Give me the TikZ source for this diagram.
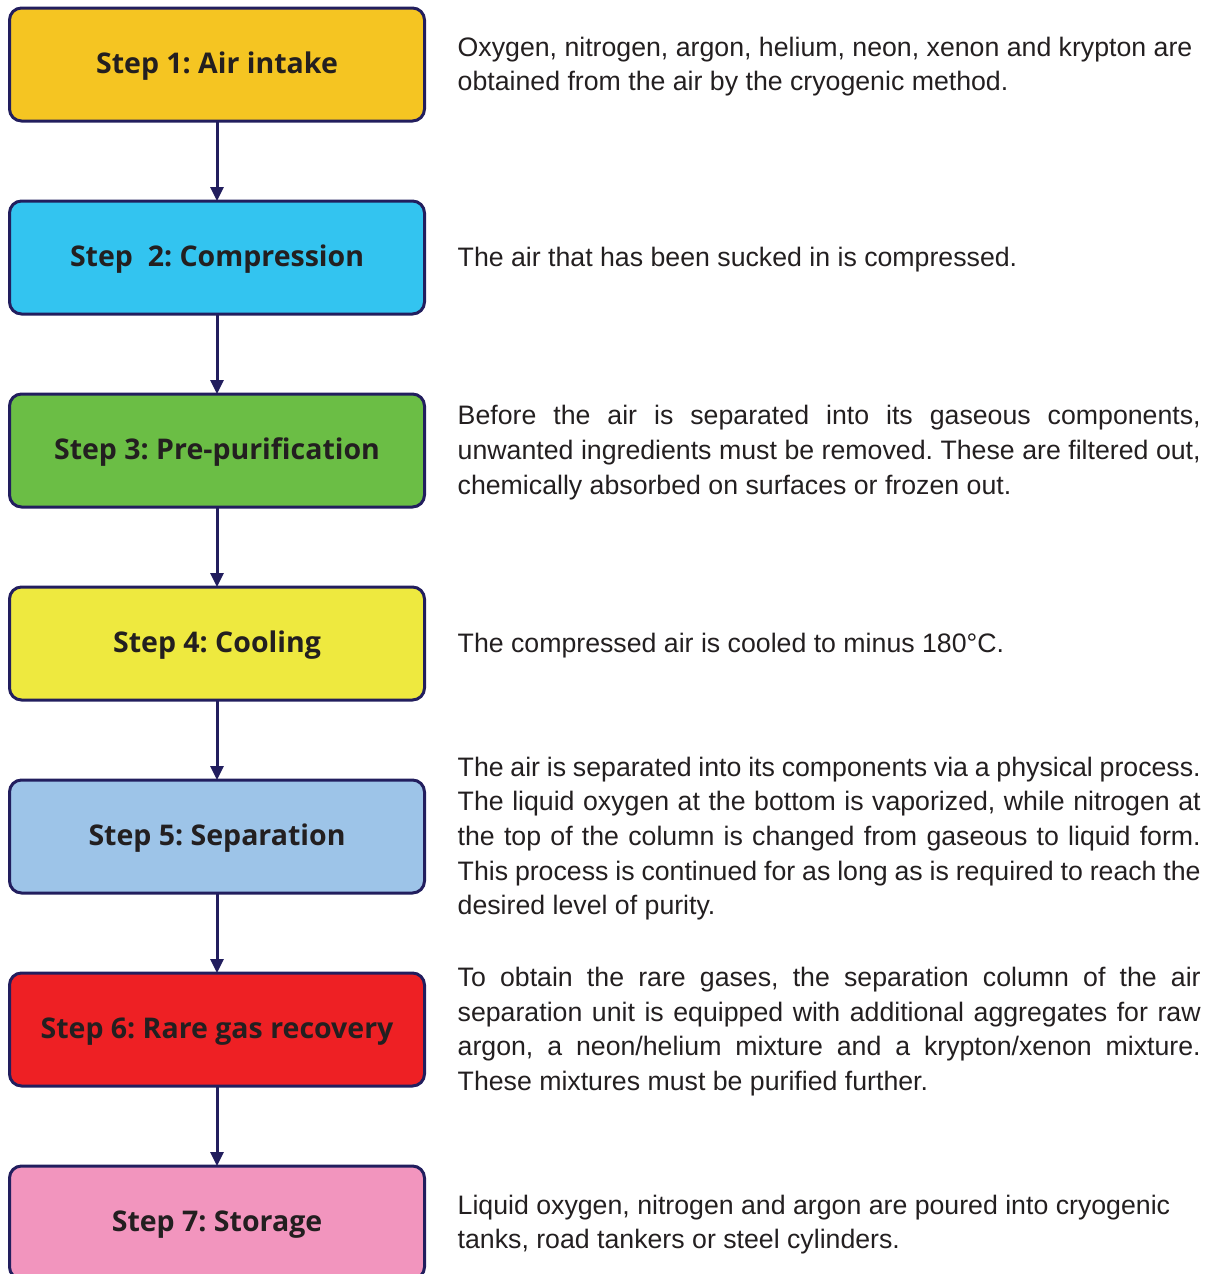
\documentclass[tikz,border=0pt]{standalone}
\usepackage{fontspec}
\setmainfont{Liberation Sans}
\newfontfamily\stepfont{Open Sans}
\usetikzlibrary{arrows.meta,positioning}
\definecolor{navy}{HTML}{221E5E}
\definecolor{ink}{HTML}{231F20}
\definecolor{stA}{HTML}{F5C522}
\definecolor{stB}{HTML}{33C4F0}
\definecolor{stC}{HTML}{6BBE45}
\definecolor{stD}{HTML}{EEE93F}
\definecolor{stE}{HTML}{9DC4E8}
\definecolor{stF}{HTML}{EE2024}
\definecolor{stG}{HTML}{F295BE}
\newcommand{\jl}[1]{\makebox[\hsize][s]{\spaceskip=0pt\xspaceskip=0pt #1}\\}
\frenchspacing

\begin{document}
\begin{tikzpicture}[x=1pt,y=-1pt,
 stepbox/.style={draw=navy,line width=3pt,outer sep=0pt,rounded corners=12pt,minimum width=415pt,minimum height=113pt,
  text height=24.6pt,text depth=6pt,font=\stepfont\bfseries\fontsize{28.5}{32}\selectfont,text=ink},
 desc/.style={inner sep=0pt,text width=743pt,align=justify,yshift=-2pt,text=ink,font=\fontsize{26.7}{34.7}\selectfont},
 flow/.style={draw=navy,line width=3pt,-{Triangle[length=14pt,width=13pt]}}]
 \useasboundingbox (0,0) rectangle (1213,1274);
 % step boxes
 \node[stepbox,fill=stA] (s1) at (217,64.5) {Step 1: Air intake};
 \node[stepbox,fill=stB,below=80pt of s1] (s2) {Step~~2: Compression};
 \node[stepbox,fill=stC,below=80pt of s2] (s3) {Step 3: Pre-purification};
 \node[stepbox,fill=stD,below=80pt of s3] (s4) {Step 4: Cooling};
 \node[stepbox,fill=stE,below=80pt of s4] (s5) {Step 5: Separation};
 \node[stepbox,fill=stF,below=80pt of s5] (s6) {Step 6: Rare gas recovery};
 \node[stepbox,fill=stG,below=80pt of s6] (s7) {Step 7: Storage};
 \foreach \a/\b in {s1/s2,s2/s3,s3/s4,s4/s5,s5/s6,s6/s7}
  \draw[flow] (\a) -- (\b);
 % descriptions
 \node[desc,right=33pt of s1] (t1) {Oxygen, nitrogen, argon, helium, neon, xenon and krypton are\\
  obtained from the air by the cryogenic method.};
 \node[desc,right=33pt of s2] (t2) {The air that has been sucked in is compressed.};
 \node[desc,right=33pt of s3] (t3) {\jl{Before the air is separated into its gaseous components,}%
  \jl{unwanted ingredients must be removed. These are filtered out,}%
  chemically absorbed on surfaces or frozen out.};
 \node[desc,right=33pt of s4] (t4) {The compressed air is cooled to minus 180°C.};
 \node[desc,right=33pt of s5] (t5) {\jl{The air is separated into its components via a physical process.}%
  \jl{The liquid oxygen at the bottom is vaporized, while nitrogen at}%
  \jl{the top of the column is changed from gaseous to liquid form.}%
  \jl{This process is continued for as long as is required to reach the}%
  desired level of purity.};
 \node[desc,right=33pt of s6] (t6) {\jl{To obtain the rare gases, the separation column of the air}%
  \jl{separation unit is equipped with additional aggregates for raw}%
  \jl{argon, a neon/helium mixture and a krypton/xenon mixture.}%
  These mixtures must be purified further.};
 \node[desc,right=33pt of s7] (t7) {Liquid oxygen, nitrogen and argon are poured into cryogenic\\
  tanks, road tankers or steel cylinders.};
\end{tikzpicture}
\end{document}
